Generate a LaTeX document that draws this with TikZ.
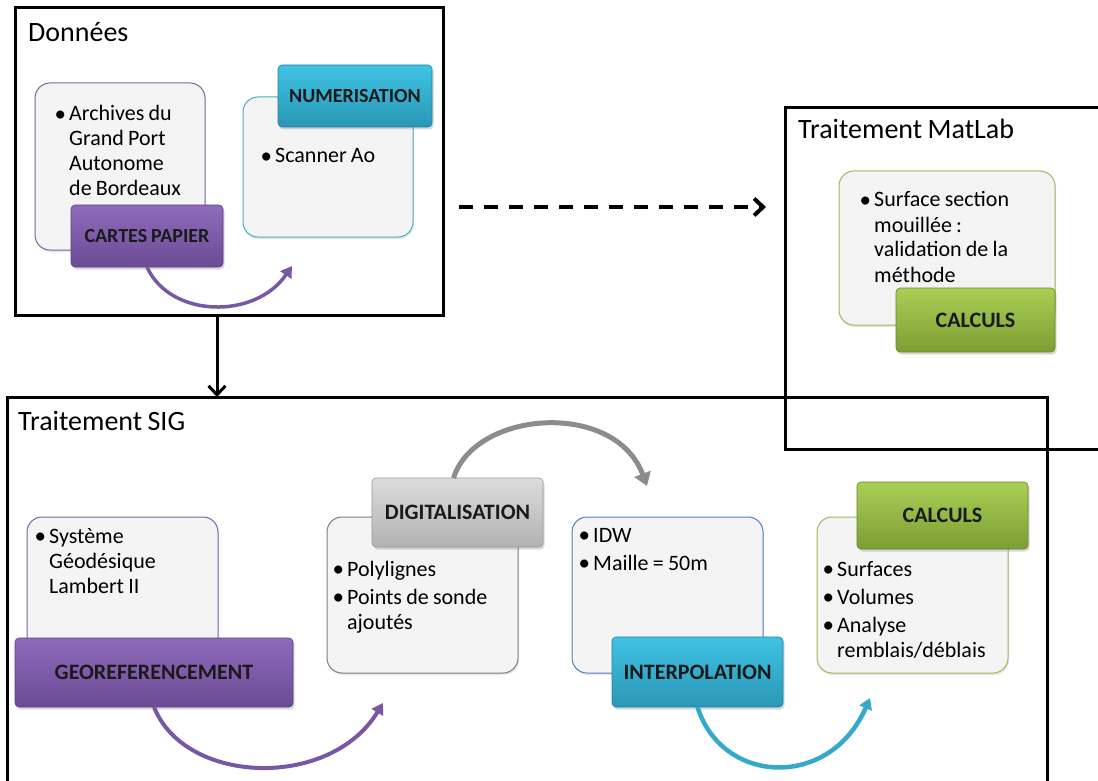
\documentclass[tikz,border=0pt]{standalone}
\usepackage{fontspec}
\setmainfont[WordSpace=0.85]{Carlito}
\usetikzlibrary{arrows.meta,shadows}
\definecolor{boxgray}{HTML}{F4F4F4}
\definecolor{pBorder}{HTML}{8064A2}
\definecolor{tBorder}{HTML}{4BACC6}
\definecolor{gBorder}{HTML}{9BBB59}
\definecolor{bBorder}{HTML}{4F81BD}
\definecolor{kBorder}{HTML}{7F7F7F}
\definecolor{pTop}{HTML}{8E6BBC}
\definecolor{pBot}{HTML}{6B4B94}
\definecolor{tTop}{HTML}{3FC3E4}
\definecolor{tBot}{HTML}{2A97B6}
\definecolor{gTop}{HTML}{AACF55}
\definecolor{gBot}{HTML}{7C9E34}
\definecolor{kTop}{HTML}{DCDCDC}
\definecolor{kBot}{HTML}{B2B2B2}
\definecolor{labtxt}{HTML}{1A1A1A}
\definecolor{pArrow}{HTML}{7858A6}
\definecolor{tArrow}{HTML}{35A9C9}
\definecolor{kArrow}{HTML}{8C8C8C}
\newcommand\bl{\spaceskip=0pt\xspaceskip=0pt\makebox[12pt][l]{\hspace*{-2.5pt}\raisebox{-0.3pt}{\fontsize{23}{25}\selectfont\textbullet}}}
\newcommand\ind{\hspace*{12pt}}
\begin{document}
\begin{tikzpicture}[x=1pt,y=-1pt,
  frame/.style={draw=black,line width=3pt,inner sep=0pt,outer sep=0pt},
  cbox/.style={draw=#1,line width=1pt,fill=boxgray,rounded corners=15pt,inner sep=0pt,outer sep=0pt,
    drop shadow={opacity=0.2,shadow xshift=1pt,shadow yshift=-2pt}},
  lab/.style 2 args={top color=#1,bottom color=#2,draw=#2!85!black,line width=0.6pt,rounded corners=4pt,
    inner sep=0pt,outer sep=0pt,font=\bfseries\fontsize{22}{24}\selectfont,text=labtxt,
    drop shadow={opacity=0.3,shadow xshift=1.5pt,shadow yshift=-2.5pt}},
  btxt/.style={anchor=base west,inner sep=0pt,text width=#1,align=left,
    font=\fontsize{22}{25}\selectfont},
  title/.style={anchor=base west,inner sep=0pt,font=\fontsize{28}{30}\selectfont},
  carrow/.style={line width=4pt,draw=#1,-{Triangle[length=11pt,width=13pt]}},
  blackarrow/.style={draw=black,line width=3pt,-{Straight Barb[length=9pt,width=17pt]}}
]
\useasboundingbox (0,0) rectangle (1098,781);
\clip (0,0) rectangle (1098,781);

% frames
\node[frame,minimum width=428,minimum height=307] (donnees) at (229,161.5) {};
\node[frame,minimum width=335,minimum height=341] (matlab) at (952.5,278.5) {};
\node[frame,minimum width=1040,minimum height=403] (sig) at (527,598.5) {};

\node[title] (tDonnees) at (28,42) {Données};
\node[title] (tMatlab) at (798,139) {Traitement MatLab};
\node[title] (tSig) at (18,430) {Traitement SIG};

% Données
\node[cbox=pBorder,minimum width=170,minimum height=167] (arch) at (120,166.5) {};
\node[btxt=150pt] (archT) at (57,121) {\bl Archives du\\\ind Grand Port\\\ind Autonome\\\ind de Bordeaux};
\node[lab={pTop}{pBot},minimum width=152,minimum height=62,font=\bfseries\fontsize{20}{22}\selectfont] (cartes) at (147,236) {CARTES PAPIER};

\node[cbox=tBorder,minimum width=170,minimum height=140] (numbox) at (328,167) {};
\node[btxt=150pt] (numT) at (263,163) {\bl Scanner Ao};
\node[lab={tTop}{tBot},minimum width=154,minimum height=62,font=\bfseries\fontsize{20}{22}\selectfont] (numlab) at (355,96) {NUMERISATION};

\coordinate (p1end) at (292,266);
\draw[carrow=pArrow,line width=3.5pt] (cartes.south) .. controls (170,318) and (255,320) .. (p1end);

% MatLab
\node[cbox=gBorder,minimum width=216,minimum height=154] (surfbox) at (947,248) {};
\node[btxt=190pt] (surfT) at (862,207) {\bl Surface section\\\ind mouillée :\\\ind validation de la\\\ind méthode};
\node[lab={gTop}{gBot},minimum width=159,minimum height=64] (calc1) at (975.5,320) {CALCULS};

% connectors between frames
\coordinate (dstart) at (459,207);
\coordinate (dend) at (766,207);
\draw[blackarrow,line width=4pt,dash pattern=on 14pt off 11pt] (dstart) -- (dend);
\draw[blackarrow] ([xshift=-12pt]donnees.south) -- ([xshift=-12pt]donnees.south |- sig.north);

% SIG
\node[cbox=pBorder,minimum width=191,minimum height=156] (sysbox) at (122.5,595) {};
\node[btxt=170pt] (sysT) at (37,543) {\bl Système\\\ind Géodésique\\\ind Lambert II};
\node[lab={pTop}{pBot},minimum width=278,minimum height=69] (geo) at (154,672.5) {GEOREFERENCEMENT};

\node[cbox=kBorder,minimum width=191,minimum height=156] (polybox) at (422.5,595) {};
\node[btxt=175pt] (polyT) at (335,576) {\bl Polylignes\\[3pt]\bl Points de sonde\\\ind ajoutés};
\node[lab={kTop}{kBot},minimum width=171,minimum height=69] (digit) at (457.5,512.5) {DIGITALISATION};

\node[cbox=bBorder,minimum width=191,minimum height=156] (idwbox) at (667.5,595) {};
\node[btxt=175pt] (idwT) at (581,542) {\bl IDW\\[3pt]\bl Maille = 50m};
\node[lab={tTop}{tBot},minimum width=171,minimum height=70] (interp) at (697.5,672) {INTERPOLATION};

\node[cbox=gBorder,minimum width=191,minimum height=156] (surfsbox) at (912.5,595) {};
\node[btxt=180pt] (surfsT) at (825,576) {\bl Surfaces\\[3pt]\bl Volumes\\[3pt]\bl Analyse\\\ind remblais/déblais};
\node[lab={gTop}{gBot},minimum width=171,minimum height=67] (calc2) at (942.5,515.5) {CALCULS};

\coordinate (p2end) at (383,703);
\draw[carrow=pArrow] (geo.south) .. controls (185,785) and (330,790) .. (p2end);
\coordinate (gend) at (647,486);
\draw[carrow=kArrow,line width=5pt,-{Triangle[length=13pt,width=17pt]}] ([xshift=-4pt]digit.north) .. controls (475,410) and (615,400) .. (gend);
\coordinate (bend) at (870,698);
\draw[carrow=tArrow,line width=4.5pt] (interp.south) .. controls (722,785) and (830,790) .. (bend);
\end{tikzpicture}
\end{document}
